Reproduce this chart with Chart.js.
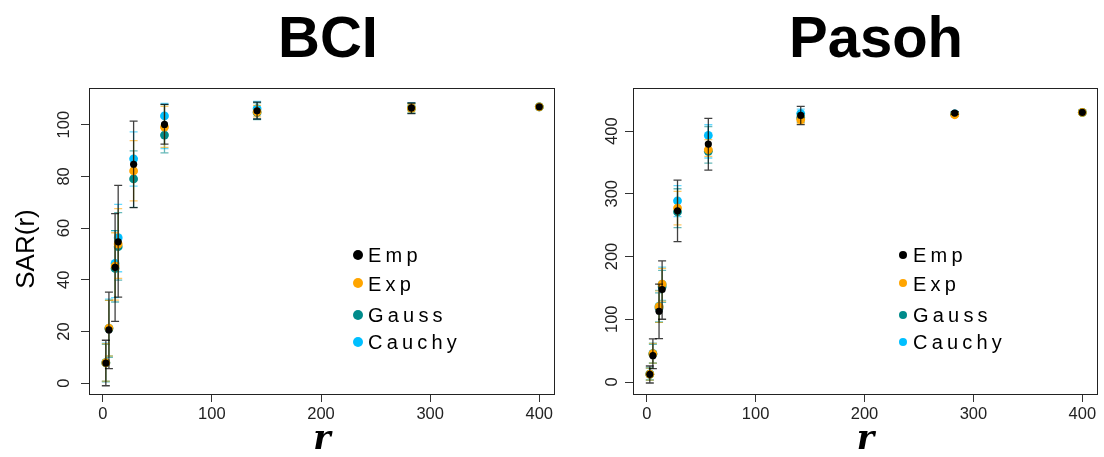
<!DOCTYPE html>
<html>
<head>
<meta charset="utf-8">
<script src="https://cdn.jsdelivr.net/npm/chart.js@4.4.1/dist/chart.umd.min.js"></script>
<style>
  body { margin: 0; background: #fff; }
  #wrap { position: relative; width: 1104px; height: 457px; overflow: hidden;
          font-family: "Liberation Sans", Arial, Helvetica, sans-serif; color: #000; }
  canvas { position: absolute; top: 0; }
  .title { position: absolute; top: 8px; font-weight: bold; font-size: 58px; line-height: 58px;
           transform: translateX(-50%); white-space: nowrap; }
  .lg-dot { position: absolute; border-radius: 50%; }
  .lg-text { position: absolute; font-size: 20px; line-height: 20px; letter-spacing: 4.2px; white-space: nowrap; }
</style>
</head>
<body>
<div id="wrap">
  <canvas id="bci" width="590" height="457" style="left:0;width:590px;height:457px"></canvas>
  <canvas id="pasoh" width="514" height="457" style="left:590px;width:514px;height:457px"></canvas>
  <div class="title" style="left:328px">BCI</div>
  <div class="title" style="left:876px">Pasoh</div>
</div>
<script>
// distance classes r (same for both plots)
const rValues = [2.83, 5.66, 11.31, 14.14, 28.28, 56.57, 141.42, 282.84, 400];

const seriesNames = ['Emp', 'Exp', 'Gauss', 'Cauchy'];
const pointColors = ['#000000', '#FFA500', '#008B8B', '#00BFFF'];
const barColors = ['rgba(0,0,0,0.75)', 'rgba(255,165,0,0.6)', 'rgba(0,139,139,0.6)', 'rgba(0,191,255,0.6)'];

const xTicks = [0, 100, 200, 300, 400];
const bciYTicks = [0, 20, 40, 60, 80, 100];
const pasohYTicks = [0, 100, 200, 300, 400];

// BCI: mean SAR(r) with lower/upper bounds
const bciEmp    = [7.8, 20.6, 44.8, 54.7, 84.7, 100.1, 105.4, 106.5, 106.9];
const bciEmpLo  = [-1.0, 5.6, 23.9, 33.3, 67.9, 92.5, 102.2, 104.3, 106.9];
const bciEmpHi  = [16.6, 35.2, 65.6, 76.5, 101.4, 107.9, 108.7, 108.4, 106.9];
const bciExp    = [7.9, 21.3, 45.3, 53.8, 82.1, 99.1, 105.0, 106.4, 106.9];
const bciExpLo  = [0.8, 10.5, 32.1, 40.5, 70.5, 91.2, 103.0, 105.0, 106.9];
const bciExpHi  = [15.3, 32.0, 58.2, 67.5, 93.8, 107.1, 107.5, 108.0, 106.9];
const bciGauss   = [7.8, 21.0, 44.4, 52.8, 79.0, 96.0, 104.7, 106.3, 106.9];
const bciGaussLo = [0.5, 10.0, 31.4, 39.9, 68.0, 89.1, 102.0, 104.5, 106.9];
const bciGaussHi = [15.0, 32.0, 59.0, 66.0, 89.9, 107.8, 108.5, 108.2, 106.9];
const bciCauchy   = [8.0, 21.3, 46.3, 56.3, 86.8, 103.4, 106.2, 106.6, 106.9];
const bciCauchyLo = [0.8, 10.5, 33.1, 43.1, 76.2, 90.8, 102.2, 104.5, 106.9];
const bciCauchyHi = [15.5, 32.5, 59.0, 69.2, 97.2, 108.2, 109.0, 108.5, 106.9];

// Pasoh
const pasohEmp    = [12.2, 42.0, 112.8, 147.3, 272.9, 379.3, 424.9, 428.7, 429.7];
const pasohEmpLo  = [-1.6, 21.3, 69.1, 100.0, 223.9, 337.8, 410.1, 426.5, 429.7];
const pasohEmpHi  = [25.5, 68.6, 155.9, 193.1, 321.8, 420.2, 439.3, 431.0, 429.7];
const pasohExp    = [12.5, 45.2, 120.2, 155.9, 277.2, 370.2, 418.0, 426.0, 429.7];
const pasohExpLo  = [3.0, 30.0, 95.2, 128.8, 250.5, 359.5, 412.0, 424.0, 429.7];
const pasohExpHi  = [22.0, 61.7, 145.3, 181.0, 303.8, 386.2, 424.0, 428.0, 429.7];
const pasohGauss   = [12.3, 44.5, 118.0, 152.0, 271.3, 367.6, 421.0, 427.0, 429.7];
const pasohGaussLo = [3.0, 30.0, 95.0, 127.0, 246.0, 349.0, 414.0, 425.0, 429.7];
const pasohGaussHi = [22.0, 60.0, 142.0, 178.0, 308.0, 407.0, 428.0, 429.0, 429.7];
const pasohCauchy   = [12.8, 45.5, 121.0, 156.0, 288.8, 393.0, 427.7, 427.5, 429.7];
const pasohCauchyLo = [3.5, 30.0, 96.0, 130.0, 263.7, 357.0, 420.0, 425.0, 429.7];
const pasohCauchyHi = [23.0, 62.0, 146.0, 183.0, 313.0, 410.0, 435.0, 430.0, 429.7];

const tickFont = { family: '"Liberation Sans", Arial, sans-serif', size: 16.5 };

// vertical error bars with flat caps, drawn just under each series' points
const errorBars = {
  id: 'errorBars',
  beforeDatasetDraw(chart, args) {
    const ds = chart.data.datasets[args.index];
    const xs = chart.scales.x, ys = chart.scales.y;
    const ctx = chart.ctx;
    ctx.save();
    ctx.strokeStyle = ds.barColor;
    ctx.lineWidth = 1.3;
    ds.data.forEach((p, i) => {
      if (ds.errHi[i] - ds.errLo[i] <= 0) return;
      const px = xs.getPixelForValue(p.x);
      const yl = ys.getPixelForValue(ds.errLo[i]);
      const yh = ys.getPixelForValue(ds.errHi[i]);
      ctx.beginPath();
      ctx.moveTo(px, yl); ctx.lineTo(px, yh);
      ctx.moveTo(px - 4, yl); ctx.lineTo(px + 4, yl);
      ctx.moveTo(px - 4, yh); ctx.lineTo(px + 4, yh);
      ctx.stroke();
    });
    ctx.restore();
  }
};

// plot frame, vertical y tick labels and the y axis label
const frame = {
  id: 'frame',
  afterDraw(chart, args, opts) {
    const { ctx, chartArea: a } = chart;
    ctx.save();
    ctx.strokeStyle = '#222';
    ctx.lineWidth = 1;
    ctx.strokeRect(Math.round(a.left) + 0.5, Math.round(a.top) + 0.5,
                   Math.round(a.right - a.left) - 1, Math.round(a.bottom - a.top));
    const ys = chart.scales.y;
    ctx.fillStyle = '#222';
    ctx.font = tickFont.size + 'px ' + tickFont.family;
    ctx.textAlign = 'center';
    ctx.textBaseline = 'middle';
    ys.ticks.forEach(t => {
      const py = ys.getPixelForValue(t.value);
      ctx.save();
      ctx.translate(a.left - opts.labelGap, py);
      ctx.rotate(-Math.PI / 2);
      ctx.fillText(String(t.value), 0, 0);
      ctx.restore();
    });
    if (opts.yTitle) {
      ctx.fillStyle = '#000';
      ctx.font = '26px "Liberation Sans", Arial, sans-serif';
      ctx.translate(27, (a.top + a.bottom) / 2 + 8);
      ctx.rotate(-Math.PI / 2);
      ctx.fillText(opts.yTitle, 0, 0);
    }
    ctx.restore();
  }
};

function makeChart(id, cfg) {
  const series = [
    [cfg.emp, cfg.empLo, cfg.empHi],
    [cfg.exp, cfg.expLo, cfg.expHi],
    [cfg.gauss, cfg.gaussLo, cfg.gaussHi],
    [cfg.cauchy, cfg.cauchyLo, cfg.cauchyHi]
  ];
  const datasets = series.map((s, k) => ({
    label: seriesNames[k],
    data: rValues.map((x, i) => ({ x: x, y: s[0][i] })),
    errLo: s[1],
    errHi: s[2],
    barColor: barColors[k],
    pointRadius: k === 0 ? 3.6 : 4.4,
    pointBackgroundColor: pointColors[k],
    pointBorderWidth: 0,
    showLine: false
  }));
  const grid = { display: true, drawOnChartArea: false, drawTicks: true, tickLength: 8, tickColor: '#333', lineWidth: 1 };
  return new Chart(document.getElementById(id), {
    type: 'scatter',
    data: { datasets: datasets },
    options: {
      responsive: false,
      animation: false,
      devicePixelRatio: 1,
      layout: { padding: { left: 0, top: 88, right: cfg.padRight, bottom: 0 } },
      plugins: {
        legend: { display: false },
        tooltip: { enabled: false },
        frame: { labelGap: cfg.labelGap, yTitle: cfg.yTitle }
      },
      scales: {
        x: {
          type: 'linear', min: -12.6, max: 414.4,
          afterBuildTicks: s => { s.ticks = xTicks.map(v => ({ value: v })); },
          afterFit: s => { s.height = 63; },
          grid: grid,
          border: { display: false },
          ticks: { font: tickFont, color: '#222', padding: 3, maxRotation: 0 },
          title: { display: true, text: 'r', color: '#000', padding: { top: 0, bottom: 0 },
                   font: { family: '"DejaVu Serif", serif', size: 33, style: 'italic', weight: 'bold', lineHeight: 1 } }
        },
        y: {
          type: 'linear', min: cfg.yMin, max: cfg.yMax,
          afterBuildTicks: s => { s.ticks = cfg.yTicks.map(v => ({ value: v })); },
          afterFit: s => { s.width = cfg.axisWidth; },
          grid: grid,
          border: { display: false },
          ticks: { display: false }
        }
      }
    },
    plugins: [errorBars, frame]
  });
}

makeChart('bci', {
  emp: bciEmp, empLo: bciEmpLo, empHi: bciEmpHi,
  exp: bciExp, expLo: bciExpLo, expHi: bciExpHi,
  gauss: bciGauss, gaussLo: bciGaussLo, gaussHi: bciGaussHi,
  cauchy: bciCauchy, cauchyLo: bciCauchyLo, cauchyHi: bciCauchyHi,
  yTicks: bciYTicks, yMin: -4.2, yMax: 114.2,
  axisWidth: 89, padRight: 35, labelGap: 25, yTitle: 'SAR(r)'
});

makeChart('pasoh', {
  emp: pasohEmp, empLo: pasohEmpLo, empHi: pasohEmpHi,
  exp: pasohExp, expLo: pasohExpLo, expHi: pasohExpHi,
  gauss: pasohGauss, gaussLo: pasohGaussLo, gaussHi: pasohGaussHi,
  cauchy: pasohCauchy, cauchyLo: pasohCauchyLo, cauchyHi: pasohCauchyHi,
  yTicks: pasohYTicks, yMin: -19.1, yMax: 468.6,
  axisWidth: 43, padRight: 6, labelGap: 21, yTitle: ''
});

// legends inside each panel
const wrap = document.getElementById('wrap');
const legendRows = [262.3, 290.5, 322, 349];
[[358.3, 5, 368], [903.3, 4.2, 913]].forEach(([dotX, dotR, textX]) => {
  seriesNames.forEach((name, k) => {
    const base = legendRows[k];
    const dot = document.createElement('div');
    dot.className = 'lg-dot';
    dot.style.cssText = `left:${dotX - dotR}px;top:${base - 7.2 - dotR}px;width:${2 * dotR}px;height:${2 * dotR}px;background:${pointColors[k]}`;
    const txt = document.createElement('div');
    txt.className = 'lg-text';
    txt.style.left = textX + 'px';
    txt.style.top = (base - 16.9) + 'px';
    txt.textContent = name;
    wrap.appendChild(dot);
    wrap.appendChild(txt);
  });
});
</script>
</body>
</html>
